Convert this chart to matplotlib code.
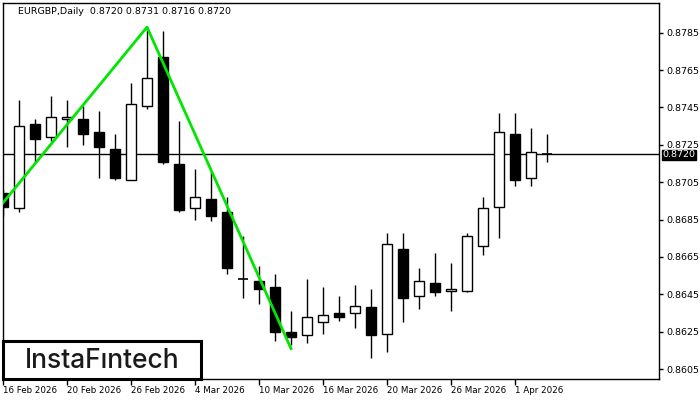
import matplotlib
matplotlib.use("Agg")
import matplotlib.pyplot as plt
from matplotlib.patches import Rectangle

# EURGBP daily candles
dates = ["16 Feb", "17 Feb", "18 Feb", "19 Feb", "20 Feb", "23 Feb", "24 Feb", "25 Feb",
         "26 Feb", "27 Feb", "2 Mar", "3 Mar", "4 Mar", "5 Mar", "6 Mar", "9 Mar",
         "10 Mar", "11 Mar", "12 Mar", "13 Mar", "16 Mar", "17 Mar", "18 Mar", "19 Mar",
         "20 Mar", "23 Mar", "24 Mar", "25 Mar", "26 Mar", "27 Mar", "30 Mar", "31 Mar",
         "1 Apr", "2 Apr", "3 Apr"]
opens = [0.8699, 0.8691, 0.8736, 0.8729, 0.8739, 0.8739, 0.8732, 0.8723,
         0.8706, 0.8746, 0.8772, 0.8715, 0.8691, 0.8696, 0.8689, 0.8653,
         0.8652, 0.8649, 0.8625, 0.8623, 0.8630, 0.8635, 0.8635, 0.8638,
         0.8624, 0.8669, 0.8644, 0.8651, 0.8647, 0.8647, 0.8671, 0.8692,
         0.8731, 0.8707, 0.8720]
highs = [0.8701, 0.8749, 0.8739, 0.8751, 0.8749, 0.8746, 0.8743, 0.8731,
         0.8758, 0.8788, 0.8786, 0.8738, 0.8712, 0.8711, 0.8697, 0.8676,
         0.8660, 0.8656, 0.8636, 0.8653, 0.8649, 0.8644, 0.8650, 0.8648,
         0.8678, 0.8678, 0.8659, 0.8667, 0.8662, 0.8678, 0.8697, 0.8742,
         0.8742, 0.8734, 0.8731]
lows = [0.8687, 0.8689, 0.8716, 0.8727, 0.8724, 0.8725, 0.8707, 0.8706,
        0.8706, 0.8744, 0.8715, 0.8689, 0.8685, 0.8684, 0.8656, 0.8643,
        0.8640, 0.8620, 0.8618, 0.8619, 0.8624, 0.8631, 0.8627, 0.8611,
        0.8614, 0.8630, 0.8637, 0.8644, 0.8636, 0.8646, 0.8666, 0.8675,
        0.8703, 0.8703, 0.8716]
closes = [0.8692, 0.8735, 0.8728, 0.8740, 0.8740, 0.8731, 0.8724, 0.8707,
          0.8747, 0.8761, 0.8716, 0.8690, 0.8697, 0.8687, 0.8659, 0.8653,
          0.8648, 0.8625, 0.8622, 0.8633, 0.8634, 0.8633, 0.8639, 0.8623,
          0.8672, 0.8643, 0.8652, 0.8646, 0.8648, 0.8676, 0.8691, 0.8732,
          0.8706, 0.8721, 0.8720]

# double top pattern line: start, top, bottom
pattern_idx = [0, 9, 18]
pattern_px = [0.8694, 0.8788, 0.8616]

last_price = 0.8720
price_ticks = [0.8605, 0.8625, 0.8645, 0.8665, 0.8685, 0.8705, 0.8725, 0.8745, 0.8765, 0.8785]
date_ticks = [0, 4, 8, 12, 16, 20, 24, 28, 32]

fig = plt.figure(figsize=(7, 4), dpi=100)
ax = fig.add_axes([3 / 700, 21 / 400, 656 / 700, 376 / 400])

w = 0.65
for i in range(len(opens)):
    o, h, l, c = opens[i], highs[i], lows[i], closes[i]
    ax.vlines(i, l, h, color="black", lw=1, zorder=3)
    if abs(c - o) < 0.00003:
        ax.hlines(o, i - w / 2, i + w / 2, color="black", lw=1.2, zorder=4)
    else:
        fc = "white" if c > o else "black"
        ax.add_patch(Rectangle((i - w / 2, min(o, c)), w, abs(c - o),
                               facecolor=fc, edgecolor="black", lw=1, zorder=4))

ax.axhline(last_price, color="black", lw=1, zorder=2)
ax.plot(pattern_idx, pattern_px, color="#00e600", lw=2, zorder=5)

ax.set_xlim(0, 41)
ax.set_ylim(0.85997, 0.88009)

ax.yaxis.tick_right()
ax.set_yticks(price_ticks)
ax.set_yticklabels([f"{p:.4f}" for p in price_ticks])
ax.tick_params(axis="y", length=3, width=1, labelsize=6.8, pad=2)

ax.set_xticks(date_ticks)
ax.set_xticklabels([dates[i] + " 2026" for i in date_ticks], ha="left")
ax.tick_params(axis="x", length=4, width=1, labelsize=6.3, pad=1)

for s in ax.spines.values():
    s.set_linewidth(1)

ax.text(15 / 656, 1 - 9 / 376, "EURGBP,Daily  0.8720 0.8731 0.8716 0.8720",
        transform=ax.transAxes, fontsize=6.8, va="center", ha="left")

ax.annotate(f"{last_price:.4f}", xy=(1, last_price), xycoords=("axes fraction", "data"),
            xytext=(2.5, -0.5), textcoords="offset points", fontsize=6.8, color="white",
            va="center", ha="left",
            bbox=dict(boxstyle="square,pad=0.08", fc="black", ec="black"))

# logo box
logo = fig.add_axes([3 / 700, 21 / 400, 198 / 700, 38 / 400])
logo.set_xticks([])
logo.set_yticks([])
for s in logo.spines.values():
    s.set_linewidth(2.2)
logo.text(0.5, 0.47, "InstaF\u0131ntech", fontsize=19, family="Inter", fontweight="medium",
          color="#1a1a1a", ha="center", va="center", transform=logo.transAxes)

fig.savefig("out.png", dpi=100)
